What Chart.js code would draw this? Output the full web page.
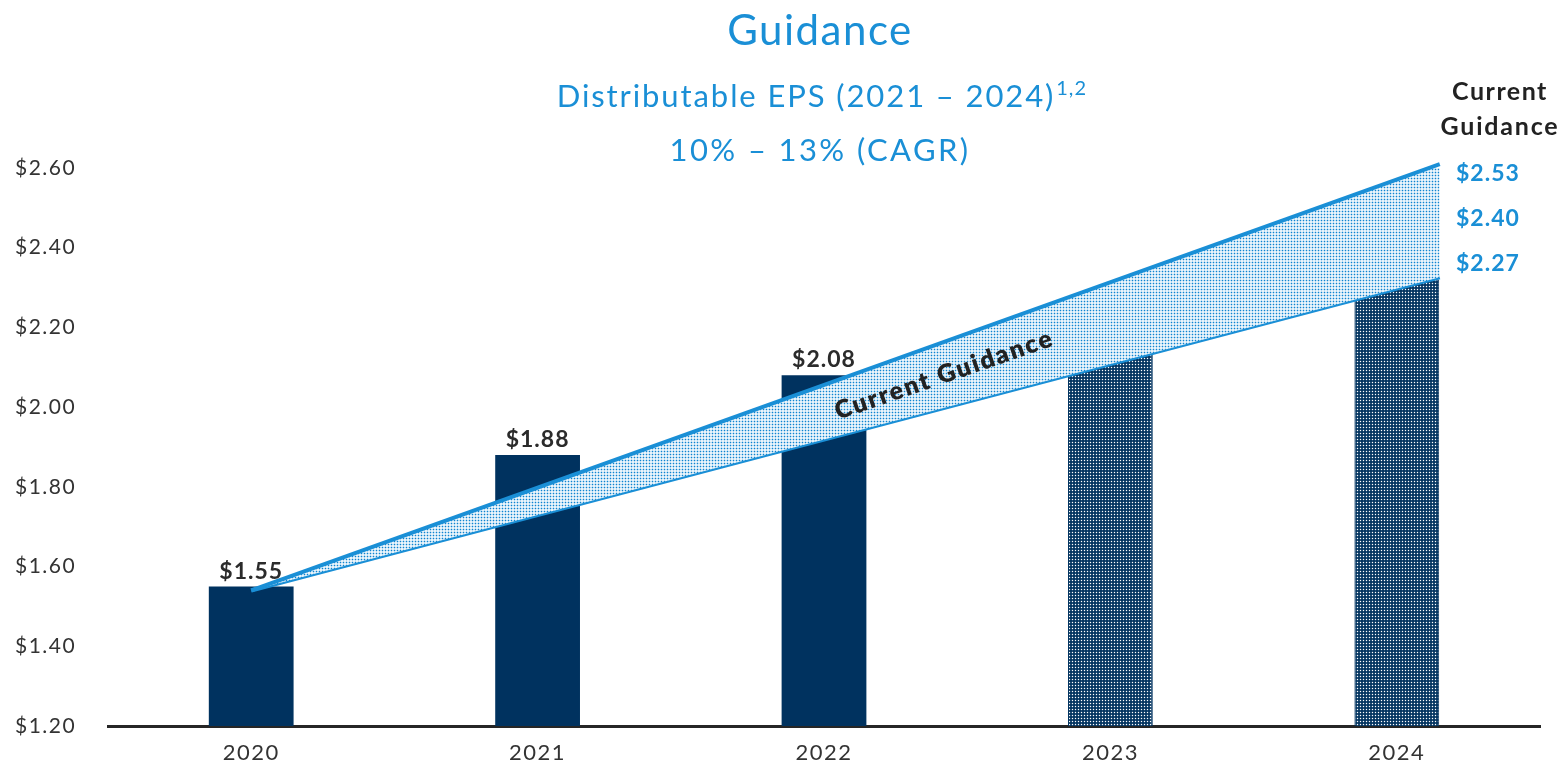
<!DOCTYPE html>
<html>
<head>
<meta charset="utf-8">
<title>Guidance</title>
<script src="https://cdn.jsdelivr.net/npm/chart.js"></script>
<style>
  html, body { margin: 0; padding: 0; background: #fff; }
  #wrap { width: 1567px; height: 768px; }
</style>
</head>
<body>
<div id="wrap"><canvas id="epsChart" width="1567" height="768"></canvas></div>
<script>
const years = ['2020', '2021', '2022', '2023', '2024'];
const epsValues = [1.55, 1.88, 2.08, 2.17, 2.32];
const barLabels = ['$1.55', '$1.88', '$2.08', '', ''];
const isGuidance = [false, false, false, true, true];
const yTicks = [1.20, 1.40, 1.60, 1.80, 2.00, 2.20, 2.40, 2.60];

// guidance band, x is measured in category slots (0 = 2020)
const bandX = [0, 4.15];
const bandHigh = [1.54, 2.61];
const bandLow = [1.54, 2.326];
const guidanceLabels = ['$2.53', '$2.40', '$2.27'];

const NAVY = '#00325f';
const BLUE = '#1a8fd6';
const FONT = 'Lato, "Open Sans", sans-serif';

const canvas = document.getElementById('epsChart');
const ctx = canvas.getContext('2d');

function dotPattern(bg, dot, size, pos, dotSize) {
  const c = document.createElement('canvas');
  c.width = c.height = size;
  const g = c.getContext('2d');
  g.fillStyle = bg;
  g.fillRect(0, 0, size, size);
  g.fillStyle = dot;
  g.fillRect(pos, pos, dotSize, dotSize);
  return ctx.createPattern(c, 'repeat');
}

const barPattern = dotPattern(NAVY, '#ffffff', 3, 0.85, 1.3);
const bandPattern = dotPattern('#ffffff', '#0f84d0', 3, 0.7, 1.6);

function spaced(c, text, x, y, spacing) {
  c.letterSpacing = spacing + 'px';
  c.fillText(text, x, y);
}

const textPlugin = {
  id: 'texts',
  beforeDraw(chart) {
    // wider tracking for the axis labels, closer to the original typeface
    chart.ctx.letterSpacing = '1.5px';
  },
  afterDraw(chart) {
    const c = chart.ctx;
    const area = chart.chartArea;
    const mid = (area.left + area.right) / 2 - 4;
    c.save();
    c.textBaseline = 'alphabetic';

    // titles
    c.fillStyle = BLUE;
    c.textAlign = 'center';
    c.font = '400 42px ' + FONT;
    spaced(c, 'Guidance', mid, 45, 1.5);
    c.font = '400 31px ' + FONT;
    c.letterSpacing = '1.9px';
    const sub = 'Distributable EPS (2021 \u2013 2024)';
    const w = c.measureText(sub).width;
    spaced(c, sub, mid - 14, 107, 1.9);
    c.textAlign = 'left';
    c.font = '400 20px ' + FONT;
    spaced(c, '1,2', mid - 14 + w / 2 + 1, 95, 1);
    c.textAlign = 'center';
    c.font = '400 31px ' + FONT;
    spaced(c, '10% \u2013 13% (CAGR)', mid, 161, 2.4);

    // bar value labels
    const bars = chart.getDatasetMeta(2).data;
    c.fillStyle = '#2b2b2b';
    c.font = '700 23px ' + FONT;
    bars.forEach((b, i) => {
      if (barLabels[i]) spaced(c, barLabels[i], b.x, b.y - 8, 1);
    });

    // right side guidance labels
    const rx = area.right - 40;
    c.fillStyle = '#222';
    c.font = '700 25px ' + FONT;
    spaced(c, 'Current', rx, 100, 1.5);
    spaced(c, 'Guidance', rx, 135, 1.8);
    c.textAlign = 'left';
    c.fillStyle = BLUE;
    c.font = '700 23px ' + FONT;
    guidanceLabels.forEach((t, i) => spaced(c, t, area.right - 84, 181 + i * 45, 1));

    // rotated label inside the band
    const xs = chart.scales.x2;
    const ys = chart.scales.y;
    const tx = 2.42;
    const hi = bandHigh[0] + (bandHigh[1] - bandHigh[0]) * tx / bandX[1];
    const lo = bandLow[0] + (bandLow[1] - bandLow[0]) * tx / bandX[1];
    c.translate(xs.getPixelForValue(tx), ys.getPixelForValue((hi + lo) / 2));
    c.rotate(-19 * Math.PI / 180);
    c.textAlign = 'center';
    c.textBaseline = 'middle';
    c.fillStyle = '#222';
    c.font = '800 25px ' + FONT;
    spaced(c, 'Current Guidance', 0, 0, 2);
    c.restore();
    c.letterSpacing = '0px';
  }
};

new Chart(ctx, {
  type: 'bar',
  data: {
    labels: years,
    datasets: [
      {
        type: 'line',
        xAxisID: 'x2',
        data: bandX.map((x, i) => ({ x: x, y: bandHigh[i] })),
        borderColor: BLUE,
        borderWidth: 4,
        pointRadius: 0,
        backgroundColor: bandPattern,
        fill: '+1',
        clip: false,
        order: 0
      },
      {
        type: 'line',
        xAxisID: 'x2',
        data: bandX.map((x, i) => ({ x: x, y: bandLow[i] })),
        borderColor: BLUE,
        borderWidth: 4,
        pointRadius: 0,
        fill: false,
        clip: false,
        order: 0
      },
      {
        type: 'bar',
        data: epsValues,
        backgroundColor: isGuidance.map(g => g ? barPattern : NAVY),
        borderColor: NAVY,
        borderWidth: isGuidance.map(g => g ? 1 : 0),
        categoryPercentage: 1,
        barPercentage: 0.296,
        grouped: false,
        order: 1
      }
    ]
  },
  options: {
    responsive: false,
    animation: false,
    layout: { padding: { left: 15, right: 27, top: 168, bottom: 0 } },
    plugins: { legend: { display: false }, tooltip: { enabled: false } },
    scales: {
      x: {
        grid: { display: false },
        border: { display: true, color: '#262626', width: 3 },
        ticks: { color: '#333', font: { family: FONT, size: 22 }, padding: 6 },
        afterFit(axis) { axis.height = 42; }
      },
      x2: { type: 'linear', display: false, offset: false, min: -0.5, max: 4.5 },
      y: {
        min: 1.2,
        max: 2.6,
        grid: { display: false },
        border: { display: false },
        afterBuildTicks(axis) { axis.ticks = yTicks.map(v => ({ value: v })); },
        afterFit(axis) { axis.width = 93; },
        ticks: {
          crossAlign: 'far',
          color: '#333',
          font: { family: FONT, size: 21 },
          callback: v => '$' + Number(v).toFixed(2)
        }
      }
    }
  },
  plugins: [textPlugin]
});
</script>
</body>
</html>
